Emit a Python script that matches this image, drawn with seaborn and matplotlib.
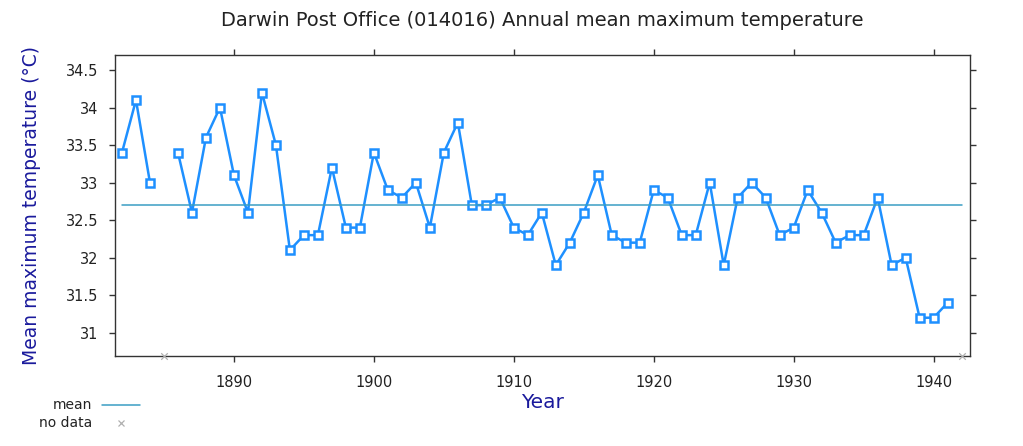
import numpy as np
import pandas as pd
import matplotlib
matplotlib.use("Agg")
import matplotlib.pyplot as plt
import seaborn as sns
from matplotlib.lines import Line2D

# Annual mean maximum temperature, Darwin Post Office (1885 missing)
years = list(range(1882, 1942))
temps = [33.4, 34.1, 33.0, np.nan, 33.4, 32.6, 33.6, 34.0, 33.1, 32.6,
         34.2, 33.5, 32.1, 32.3, 32.3, 33.2, 32.4, 32.4, 33.4, 32.9,
         32.8, 33.0, 32.4, 33.4, 33.8, 32.7, 32.7, 32.8, 32.4, 32.3,
         32.6, 31.9, 32.2, 32.6, 33.1, 32.3, 32.2, 32.2, 32.9, 32.8,
         32.3, 32.3, 33.0, 31.9, 32.8, 33.0, 32.8, 32.3, 32.4, 32.9,
         32.6, 32.2, 32.3, 32.3, 32.8, 31.9, 32.0, 31.2, 31.2, 31.4]
mean_value = 32.7
mean_years = [1882, 1942]
no_data_years = [1885, 1942]

df = pd.DataFrame({"Year": years, "Temp": temps})
# split into runs so missing years leave a gap in the line
df["seg"] = df["Temp"].isna().cumsum()
df = df.dropna()

sns.set_style("white")
plt.rcParams['font.family'] = ['DejaVu Sans']

fig = plt.figure(figsize=(10.23, 4.46), dpi=100)
ax = fig.add_axes([0.1124, 0.2018, 0.8358, 0.6749])

line_col = "#1e90ff"
sns.lineplot(data=df, x="Year", y="Temp", units="seg", estimator=None, ax=ax,
             color=line_col, linewidth=1.8, marker="s", markersize=6,
             markerfacecolor="white", markeredgecolor=line_col, markeredgewidth=1.8)

ax.plot(mean_years, [mean_value, mean_value], color="#3a9ec4", linewidth=1.1)

y_bottom = 30.69
ax.scatter(no_data_years, [y_bottom] * len(no_data_years), marker="x",
           color="#b0b0b0", s=22, linewidths=0.9, clip_on=False, zorder=5)

ax.set_xlim(1881.5, 1942.6)
ax.set_ylim(y_bottom, 34.7)
ax.set_xticks([1890, 1900, 1910, 1920, 1930, 1940])
ax.set_yticks([31, 31.5, 32, 32.5, 33, 33.5, 34, 34.5])
ax.set_yticklabels(["31", "31.5", "32", "32.5", "33", "33.5", "34", "34.5"])

for s in ax.spines.values():
    s.set_color("#333333")
    s.set_linewidth(1.0)
ax.tick_params(axis="both", direction="out", length=4, width=1, color="#333333",
               labelsize=10.5, labelcolor="#222222",
               top=True, right=True, bottom=True, left=True,
               labeltop=False, labelright=False)
ax.tick_params(axis="y", pad=8)
ax.tick_params(axis="x", pad=10)

ax.set_xlabel("Year", fontsize=14.5, color="#1a1a9c", labelpad=2)
ax.set_ylabel("Mean maximum temperature (\u00b0C)", fontsize=13.5, color="#1a1a9c", labelpad=18)
ax.set_title("Darwin Post Office (014016) Annual mean maximum temperature",
             fontsize=14, color="#222222", pad=21)

# legend below the axes, left side
fig.text(0.09, 0.092, "mean", ha="right", va="center", fontsize=10, color="#222222")
fig.text(0.09, 0.052, "no data", ha="right", va="center", fontsize=10, color="#222222")
fig.add_artist(Line2D([0.1, 0.137], [0.092, 0.092], transform=fig.transFigure,
                      color="#3a9ec4", linewidth=1.1))
fig.add_artist(Line2D([0.118], [0.052], transform=fig.transFigure, marker="x",
                      color="#b0b0b0", markersize=5, markeredgewidth=0.9, linestyle="none"))

fig.savefig("out.png", dpi=100)
